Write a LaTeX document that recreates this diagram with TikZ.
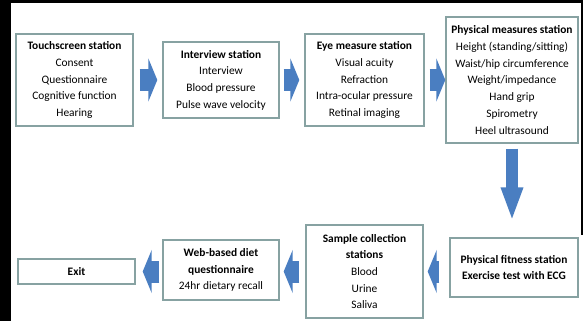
\documentclass[tikz,border=0pt]{standalone}
\usepackage{fontspec}
\setmainfont{Carlito}
\usetikzlibrary{arrows.meta}
\definecolor{boxline}{RGB}{135,162,162}
\definecolor{flowblue}{RGB}{74,126,193}

\begin{document}
\begin{tikzpicture}[x=1pt,y=-1pt,
  station/.style={draw=boxline,line width=1.4pt,fill=white,align=center,inner sep=2pt,
    font=\fontsize{11.4}{16.7}\selectfont},
  flow/.style={draw=flowblue,line width=22pt,-{Triangle[length=9pt,width=43pt]}},
  flowdown/.style={draw=flowblue,line width=12pt,-{Triangle[length=34pt,width=20pt]}}]
  \useasboundingbox (0,0) rectangle (583,321);
  \fill[white] (0,0) rectangle (583,321);
  \fill[black] (0,0) rectangle (11,321); \fill[black] (0,0) rectangle (583,3);
  \fill[black] (581,0) rectangle (583,235);
  % top row
  \node[station,minimum width=117pt,minimum height=92pt] (touch) at (74.5,80)
    {\textbf{Touchscreen station}\\Consent\\Questionnaire\\Cognitive function\\Hearing};
  \node[station,minimum width=116pt,minimum height=76pt] (interview) at (221,80)
    {\textbf{Interview station}\\Interview\\Blood pressure\\Pulse wave velocity};
  \node[station,minimum width=119pt,minimum height=92pt] (eye) at (364.5,80)
    {\textbf{Eye measure station}\\Visual acuity\\Refraction\\Intra-ocular pressure\\Retinal imaging};
  \node[station,minimum width=132pt,minimum height=126pt] (physical) at (512,80)
    {\textbf{Physical measures station}\\Height (standing/sitting)\\Waist/hip circumference\\Weight/impedance\\Hand grip\\Spirometry\\Heel ultrasound};
  % bottom row
  \node[station,minimum width=128pt,minimum height=59pt] (fitness) at (514,267.5)
    {\textbf{Physical fitness station}\\\textbf{Exercise test with ECG}};
  \node[station,minimum width=117pt,minimum height=93pt] (sample) at (364.5,271.5)
    {\textbf{Sample collection}\\\textbf{stations}\\Blood\\Urine\\Saliva};
  \node[station,minimum width=116pt,minimum height=60pt] (diet) at (221,270)
    {\textbf{Web-based diet}\\\textbf{questionnaire}\\24hr dietary recall};
  \node[station,minimum width=117pt,minimum height=25pt] (exit) at (76.5,271.5) {\textbf{Exit}};
  % arrows
  \draw[flow,shorten <=6pt,shorten >=5pt] (touch) -- (interview);
  \draw[flow,shorten <=4pt,shorten >=5pt] (interview) -- (eye);
  \draw[flow,shorten <=5pt,shorten >=0pt] (eye) -- (physical);
  \draw[flowdown,shorten <=5pt,shorten >=16pt] (physical.south) -- (physical.south |- fitness.north);
  \draw[flow,shorten <=10pt,shorten >=4pt] (sample.east -| fitness.west) -- (sample.east);
  \draw[flow,shorten <=6pt,shorten >=4pt] (sample.west) -- (sample.west -| diet.east);
  \draw[flow,shorten <=3pt,shorten >=7pt] (diet.west |- exit.east) -- (exit.east);
\end{tikzpicture}
\end{document}
